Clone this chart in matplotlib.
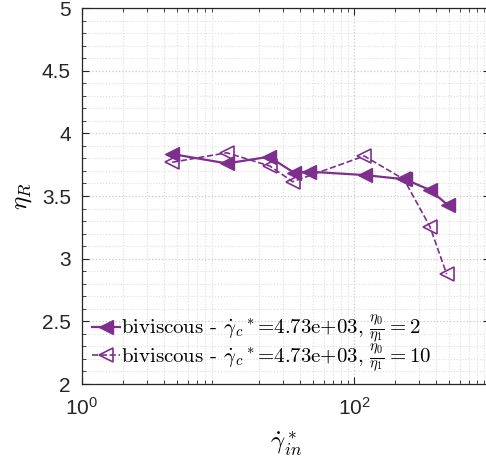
import numpy as np
import matplotlib
matplotlib.use("Agg")
import matplotlib.pyplot as plt
from matplotlib.ticker import FixedLocator, LogLocator, FuncFormatter, MultipleLocator

plt.rcParams["font.family"] = ["Liberation Sans", "DejaVu Sans"]
plt.rcParams["mathtext.fontset"] = "cm"

purple = "#7E2F8E"

# series 1: eta0/eta1 = 2
x_ratio2 = [4.6, 11.6, 23.7, 36.2, 46.7, 120, 237, 362, 489]
y_ratio2 = [3.835, 3.76, 3.813, 3.686, 3.694, 3.667, 3.633, 3.548, 3.428]

# series 2: eta0/eta1 = 10
x_ratio10 = [4.6, 11.6, 24.1, 35.4, 119, 233, 362, 480]
y_ratio10 = [3.769, 3.845, 3.739, 3.614, 3.819, 3.633, 3.255, 2.877]

label2 = r"biviscous - $\dot{\gamma}_c{}^*$=4.73e+03, $\frac{\eta_0}{\eta_1}=2$"
label10 = r"biviscous - $\dot{\gamma}_c{}^*$=4.73e+03, $\frac{\eta_0}{\eta_1}=10$"

fig = plt.figure(figsize=(4.86, 4.67), dpi=100)
ax = fig.add_axes([82 / 486, 83 / 467, 408 / 486, 376 / 467])

ax.plot(x_ratio2, y_ratio2, "-", color=purple, lw=1.6, marker="<",
        markersize=9.5, markerfacecolor=purple, label=label2)
ax.plot(x_ratio10, y_ratio10, "--", color=purple, lw=1.2, marker="<",
        markersize=9.5, markerfacecolor="none", markeredgewidth=1.2, label=label10)

ax.set_xscale("log")
ax.set_xlim(1, 1000)
ax.set_ylim(2, 5)

ax.xaxis.set_major_locator(FixedLocator([1, 100]))
ax.xaxis.set_minor_locator(LogLocator(base=10, subs=np.arange(2, 10), numticks=20))
ax.xaxis.set_major_formatter(FuncFormatter(
    lambda v, p: r"$\mathdefault{10^{%d}}$" % int(round(np.log10(v)))))
ax.xaxis.set_minor_formatter(FuncFormatter(lambda v, p: ""))
ax.yaxis.set_major_locator(MultipleLocator(0.5))
ax.yaxis.set_minor_locator(MultipleLocator(0.1))
ax.yaxis.set_major_formatter(FuncFormatter(lambda v, p: ("%g" % v)))

ax.grid(True, which="major", ls=":", color="#c8c8c8", lw=0.9)
ax.grid(True, which="minor", ls=":", color="#dedede", lw=0.8)

ax.tick_params(which="both", direction="in", top=True, right=True,
               labelsize=15, colors="#262626")
ax.tick_params(which="major", length=5)
ax.tick_params(which="minor", length=3)
ax.tick_params(axis="x", pad=9)
ax.tick_params(axis="y", pad=8)
for s in ax.spines.values():
    s.set_color("#262626")
    s.set_linewidth(0.9)

ax.set_ylabel(r"$\eta_R$", fontsize=18, labelpad=6)
ax.set_xlabel(r"$\dot{\gamma}^*_{in}$", fontsize=18, labelpad=8)

leg = ax.legend(loc="lower left", frameon=False,
                prop={"family": "cmr10", "size": 15},
                handlelength=1.3, handletextpad=0.05, borderaxespad=0.15,
                borderpad=0.35, labelspacing=-0.15)

fig.savefig("out.png", dpi=100)
